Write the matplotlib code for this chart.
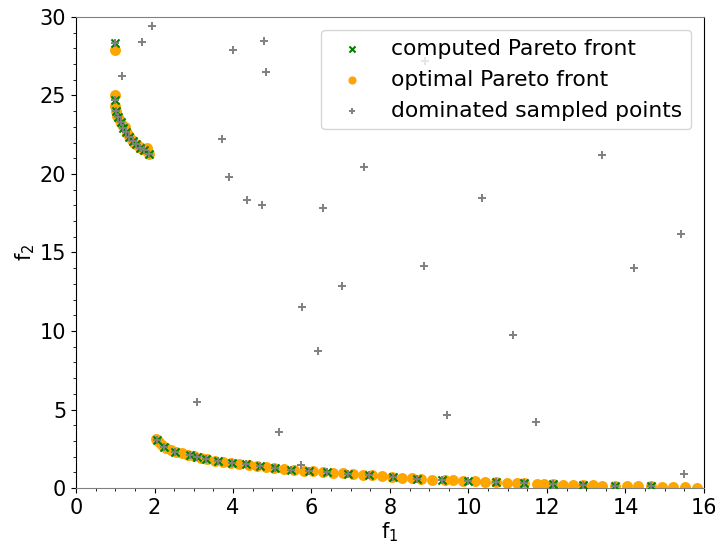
import matplotlib
matplotlib.use("Agg")
import matplotlib.pyplot as plt
from matplotlib.ticker import MultipleLocator

# Optimal Pareto front (two disconnected pieces)
opt_f1_upper = [1.00, 1.00, 1.00, 1.02, 1.05, 1.09, 1.14, 1.19, 1.25, 1.30, 1.36,
                1.42, 1.48, 1.55, 1.62, 1.69, 1.76, 1.80, 1.86]
opt_f2_upper = [27.90, 25.00, 24.30, 24.00, 23.72, 23.48, 23.25, 23.05, 23.00, 22.62,
                22.40, 22.18, 21.98, 21.82, 21.70, 21.58, 21.50, 21.64, 21.25]

opt_f1_lower = [2.05, 2.12, 2.20, 2.30, 2.42, 2.55, 2.70, 2.85, 3.00, 3.18, 3.35,
                3.55, 3.75, 3.95, 4.15, 4.40, 4.60, 4.85, 5.05, 5.30, 5.55, 5.80,
                6.05, 6.30, 6.55, 6.80, 7.05, 7.30, 7.55, 7.80, 8.05, 8.30, 8.55,
                8.80, 9.06, 9.39, 9.61, 9.85, 10.17, 10.42, 10.70, 10.97, 11.23,
                11.41, 11.74, 11.92, 12.15, 12.42, 12.67, 12.91, 13.16, 13.39,
                13.73, 14.03, 14.32, 14.65, 14.92, 15.21, 15.51, 15.81]
opt_f2_lower = [3.12, 2.92, 2.72, 2.56, 2.42, 2.30, 2.20, 2.11, 2.03, 1.93, 1.85,
                1.75, 1.66, 1.58, 1.53, 1.46, 1.40, 1.33, 1.28, 1.22, 1.16, 1.11,
                1.07, 1.02, 0.97, 0.93, 0.89, 0.85, 0.80, 0.75, 0.70, 0.65, 0.61,
                0.57, 0.54, 0.51, 0.49, 0.47, 0.44, 0.41, 0.37, 0.34, 0.31, 0.30,
                0.27, 0.26, 0.24, 0.22, 0.20, 0.18, 0.17, 0.16, 0.14, 0.13, 0.12,
                0.10, 0.09, 0.07, 0.05, 0.03]

# Pareto front found from the samples
comp_f1 = [1.00, 1.00, 1.02, 1.08, 1.14, 1.21, 1.27, 1.36, 1.44, 1.53, 1.63, 1.74, 1.87,
           2.06, 2.24, 2.53, 2.90, 3.09, 3.32, 3.63, 3.97, 4.32, 4.69, 5.08, 5.49,
           5.94, 6.39, 6.94, 7.47, 8.08, 8.70, 9.32, 10.00, 10.70, 11.41, 12.15,
           12.91, 13.73, 14.65]
comp_f2 = [28.36, 24.71, 24.00, 23.65, 23.33, 22.95, 22.70, 22.38, 22.10, 21.89, 21.68,
           21.53, 21.25, 3.06, 2.59, 2.31, 2.10, 1.99, 1.85, 1.72, 1.61, 1.53, 1.38,
           1.27, 1.17, 1.08, 1.00, 0.89, 0.81, 0.68, 0.57, 0.51, 0.45, 0.36, 0.30,
           0.24, 0.17, 0.14, 0.10]

# Remaining samples that are dominated
dom_f1 = [1.94, 1.68, 1.17, 4.00, 4.79, 4.84, 3.72, 3.90, 4.36, 4.74, 6.29, 7.34,
          8.89, 10.34, 5.76, 6.78, 6.17, 8.87, 11.13, 3.08, 5.18, 9.45, 11.72, 5.73,
          13.40, 14.22, 15.41, 15.50]
dom_f2 = [29.43, 28.41, 26.24, 27.90, 28.47, 26.50, 22.23, 19.80, 18.34, 18.03, 17.83,
          20.45, 27.20, 18.47, 11.53, 12.87, 8.73, 14.14, 9.75, 5.48, 3.59, 4.65, 4.20,
          1.46, 21.20, 14.00, 16.18, 0.89]

plt.rcParams["font.size"] = 15

fig = plt.figure(figsize=(7.15, 5.44), dpi=100)
ax = fig.add_axes([0.1063, 0.1029, 0.8783, 0.8659])

ax.scatter(comp_f1, comp_f2, marker="x", color="green", s=34, linewidths=1.5,
           zorder=3, label="computed Pareto front")
ax.scatter(opt_f1_upper + opt_f1_lower, opt_f2_upper + opt_f2_lower, marker="o",
           color="orange", s=62, linewidths=0, zorder=2, label="optimal Pareto front")
ax.scatter(dom_f1 + comp_f1, dom_f2 + comp_f2, marker="+", color="gray", s=36,
           linewidths=1.4, zorder=4, label="dominated sampled points")

ax.set_xlim(0, 16)
ax.set_ylim(0, 30)
ax.xaxis.set_major_locator(MultipleLocator(2))
ax.xaxis.set_minor_locator(MultipleLocator(0.5))
ax.yaxis.set_major_locator(MultipleLocator(5))
ax.yaxis.set_minor_locator(MultipleLocator(1))
ax.spines["top"].set_color("gray")
ax.spines["bottom"].set_color("gray")

ax.set_xlabel("f$_1$", labelpad=2)
ax.set_ylabel("f$_2$", labelpad=2)

ax.legend(loc="upper right", fontsize=15.7, markerscale=0.75,
          borderaxespad=0.6)

fig.savefig("out.png", dpi=100)
